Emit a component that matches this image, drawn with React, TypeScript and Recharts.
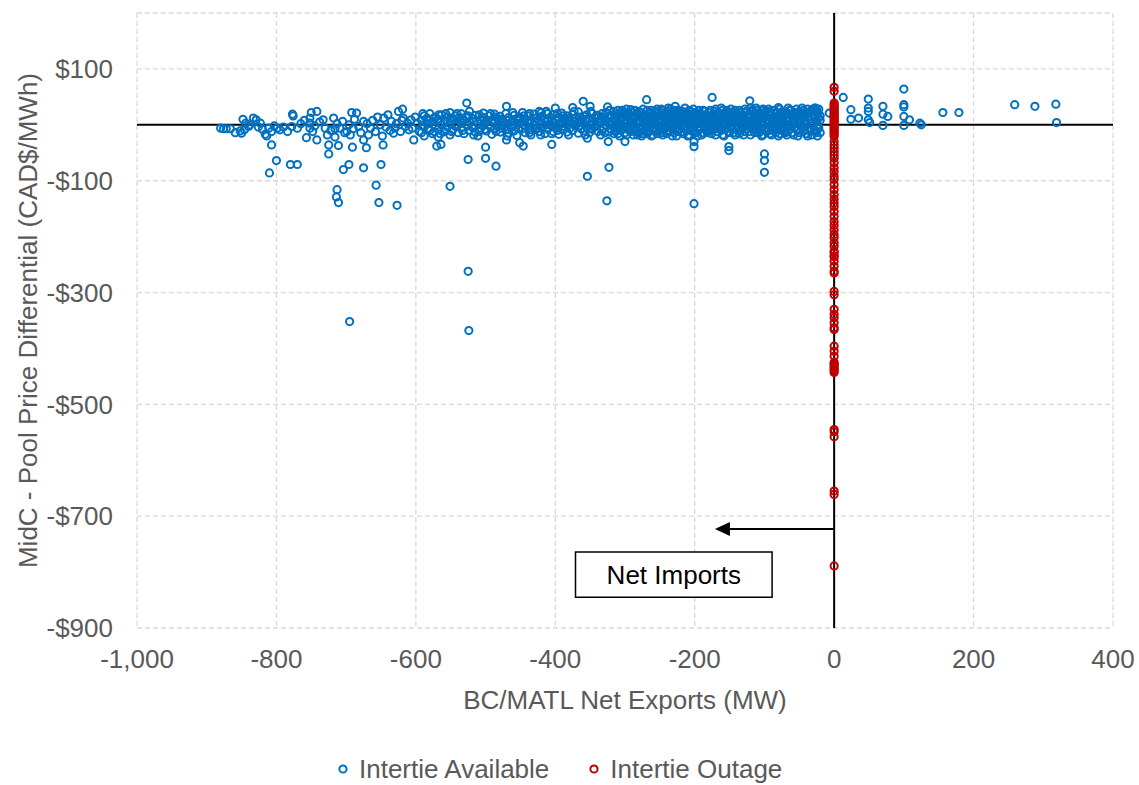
import React from 'react'
import {
  ScatterChart, Scatter, XAxis, YAxis, CartesianGrid, ReferenceLine, ReferenceArea, Legend,
} from 'recharts'

// ----- axes -----
const xTicks = [-1000, -800, -600, -400, -200, 0, 200, 400]
const yTicks = [-900, -700, -500, -300, -100, 100]

// ----- Intertie Available (blue) -----
// west part of the band, read point by point
const availableWest: [number, number][] = [
  [-880, -6], [-876, -7], [-872, -7], [-866, -7], [-859, -14], [-852, -11], [-850, -15], [-848, 10],
  [-846, -9], [-844, 3], [-840, -3], [-838, 0], [-833, 12], [-829, 9], [-826, -4], [-823, 3],
  [-820, -8], [-816, -17], [-814, -20], [-811, -6], [-807, -12], [-803, -2], [-799, -6], [-795, -9],
  [-790, -4], [-784, -12], [-778, -3], [-777, 19], [-776, 16], [-770, -6], [-765, 2], [-760, 8],
  [-757, -23], [-752, 12], [-752, 3], [-752, -6], [-750, 22], [-748, -12], [-745, -2], [-742, 24],
  [-742, -27], [-738, 5], [-733, 9], [-730, -6], [-727, -18], [-725, -36], [-722, -10], [-718, 12],
  [-716, -7], [-716, -22], [-713, 2], [-711, -37], [-709, -6], [-705, 6], [-702, -14], [-699, -12],
  [-696, 0], [-694, -18], [-692, 22], [-690, -7], [-688, 10], [-685, 21], [-682, -3], [-679, -14],
  [-675, 6], [-675, -27], [-670, 2], [-668, -18], [-665, -6], [-662, 8], [-658, -12], [-655, 14],
  [-651, 0], [-648, -20], [-646, 12], [-643, -4], [-640, 18], [-637, -10], [-635, 6], [-632, -15],
  [-630, -6], [-628, 2], [-625, 24], [-622, -12], [-620, 8], [-619, 28], [-618, 12], [-615, -3],
  [-612, 3], [-610, -9], [-607, 9], [-605, -6], [-601, 14], [-598, 3], [-595, -12],
]

// central part of the band: x, then the y values stacked at that x
const availableCentral: [number, number[]][] = [
  [-592, [8, -14]], [-588, [16, -4, -20]], [-584, [2, 12]], [-580, [-10, 20]], [-576, [6, -16]],
  [-572, [-2, 14]], [-568, [10, -8, -22]], [-567, [18]], [-563, [0, 18]], [-559, [-12, 6]],
  [-555, [14, -4]], [-551, [-18, 3, 22]], [-547, [9, -9]], [-543, [-3, 16]], [-539, [12, -14]],
  [-535, [4, -6, 20]], [-531, [-16, 8]], [-527, [0, 14, 39]], [-523, [-10, 24, 5]], [-519, [-4, 11]],
  [-515, [17, -13]], [-511, [2, -20]], [-507, [9, -6]], [-503, [13, -1, 21]], [-499, [-11, 6]],
  [-495, [0, 16]], [-491, [-17, 8]], [-487, [4, -7, 19]], [-483, [11, -3]], [-479, [-13, 15]],
  [-475, [7, -1]], [-471, [-9, 20, 2]], [-470, [33]], [-467, [13, -15]], [-463, [5, -5]],
  [-459, [17, -11, 0]], [-455, [9, -19]], [-451, [3, 14]], [-447, [-7, 22]], [-443, [10, -2, -14]],
  [-439, [16, 4]], [-435, [-9, 8, -18]], [-431, [0, 19]], [-427, [12, -6]], [-423, [-12, 6, 24]],
  [-420, [22]], [-419, [2, 15, -3]], [-415, [-16, 10]], [-411, [7, -8, 20]], [-407, [-1, 13]],
  [-403, [18, -12, 4]], [-400, [30]], [-399, [-5, 9]], [-395, [14, -17, 0]], [-391, [6, 21, -8]],
  [-387, [-3, 11]], [-383, [16, -13, 3]], [-379, [8, -6]], [-375, [-10, 19, 1, 31]], [-371, [12, -2]],
  [-367, [-15, 5, 23]], [-363, [9, -7]], [-360, [42]], [-359, [15, -11, 2]], [-355, [-4, 18, 7]],
  [-351, [11, -14]], [-350, [33]], [-347, [1, 20, -8]], [-343, [13, -3]], [-339, [-12, 6, 17]],
  [-335, [4, -18, 10]], [-331, [14, -6]], [-327, [-1, 22, 8]], [-325, [32]], [-323, [-13, 12]],
  [-320, [3, 17, -7]],
]

// more points filling the central band
const availableCentralFill: [number, number[]][] = [
  [-590, [0, 20]], [-582, [-6, 8]], [-574, [12, -12]], [-565, [4, -16]], [-557, [20, -8]],
  [-549, [-12, 12]], [-541, [0, 20]], [-533, [12, -10]], [-525, [-2, 16]], [-517, [6, -18]],
  [-509, [18, -12]], [-501, [4, -8]], [-493, [-4, 20]], [-485, [14, -12]], [-477, [-6, 10]],
  [-469, [8, -20]], [-461, [-2, 22]], [-453, [12, -6]], [-445, [0, 16]], [-437, [-14, 20]],
  [-429, [6, -8]], [-421, [14, -18]], [-413, [0, 24]], [-405, [8, -16]], [-397, [-10, 20]],
  [-389, [2, 16]], [-381, [-18, 12]], [-373, [6, 24]], [-365, [-2, 14]], [-357, [10, -18]],
  [-349, [-6, 24]], [-341, [2, 16]], [-333, [-10, 20]], [-329, [6, -14]], [-322, [0, 26]],
]

// east part of the band, the densest
const availableEast: [number, number[]][] = [
  [-316, [10, -4, 24, -16]], [-312, [2, 16, -10]], [-308, [20, -2, 8, -20]], [-304, [12, -8, 26]],
  [-300, [4, 18, -14]], [-296, [14, -6, 22]], [-292, [-12, 6, 27]], [-288, [0, 16, -18, 10]],
  [-284, [20, -6, 4]], [-280, [8, -14, 24, 14]], [-276, [-2, 12, -20]], [-272, [18, 4, -10]],
  [-269, [45]], [-268, [26, -4, 10, -16]], [-264, [14, 0, 22]], [-260, [-8, 8, 18, -18]],
  [-256, [24, 2, -12]], [-252, [10, -4, 16]], [-248, [-14, 6, 22, 28]], [-244, [14, -8, 2]],
  [-240, [20, -2, -16, 10]], [-236, [6, 16, -10]], [-235, [28]], [-232, [24, 0, -20, 12]],
  [-228, [-6, 8, 18, 33]], [-224, [14, -12, 2, 26]], [-220, [-2, 20, 8]], [-216, [10, -16, 16, -6]],
  [-212, [22, 4, -10]], [-208, [0, 14, -18, 26]], [-204, [8, -6, 18]], [-200, [12, -12, 2, 22]],
  [-196, [-4, 16, 6, -20]], [-192, [20, 10, -8]], [-188, [0, 26, -14, 14]], [-184, [8, -4, 18]],
  [-180, [-10, 4, 22, 12]], [-176, [16, -16, 0]], [-175, [49]], [-172, [6, 24, -6]],
  [-168, [-12, 12, 18, 2]], [-164, [20, -4, 8]], [-160, [14, -18, 26, 0]], [-156, [-8, 6, 16]],
  [-152, [22, 2, -12]], [-148, [10, -4, 18, 28]], [-144, [-14, 4, 14]], [-140, [20, -8, 8, 0]],
  [-136, [26, -16, 12]], [-132, [2, 16, -6]], [-128, [10, -12, 22, 28]], [-124, [-2, 14, 6]],
  [-121, [43]], [-120, [-18, 18, 0, 30]], [-116, [8, -8, 24]], [-112, [14, -4, 2, 30]],
  [-108, [-14, 20, 10]], [-104, [4, -20, 16, 26]], [-100, [-6, 12, 22]], [-96, [8, -12, 2]],
  [-92, [18, -2, 24, -16]], [-88, [12, 4, -8]], [-84, [-14, 20, 6]], [-80, [0, 14, -20, 31]],
  [-76, [10, -6, 20]], [-72, [-12, 4, 16]], [-68, [22, -2, 8, -18]], [-64, [12, -8, 26]],
  [-60, [4, 18, -14]], [-56, [-4, 10, 22]], [-52, [14, -10, 2, -20]], [-48, [6, 20, -2]],
  [-44, [-12, 12, 26]], [-40, [2, -16, 18]], [-36, [10, -6, 22]], [-32, [-18, 4, 27]],
  [-28, [12, -10, 30]], [-24, [0, 20, -4, -20]], [-20, [16, 8, -14]], [-7, [21]],
]

// more points filling the east band
const availableEastFill: [number, number[]][] = [
  [-314, [-12, 6, 18]], [-310, [0, -16, 26]], [-306, [14, -10]], [-302, [-4, 22, 8]],
  [-298, [10, -18, 28]], [-294, [0, -10, 16]], [-290, [22, -4, 4]], [-286, [-12, 12, 26]],
  [-282, [2, 18, -18]], [-278, [-8, 22, 6]], [-274, [12, -16, 28]], [-270, [0, 16, -6]],
  [-266, [-12, 6, 20]], [-262, [26, 2, -20]], [-258, [14, -6, 8]], [-254, [-16, 20, 28]],
  [-250, [0, 10, -10]], [-246, [18, -18, 26]], [-242, [4, -4, 12]], [-238, [24, -12, 30]],
  [-234, [-2, 10, 18]], [-230, [-14, 4, 26]], [-226, [12, -20, 22]], [-222, [2, -8, 16]],
  [-218, [24, -12, 6]], [-214, [-2, 14, 30]], [-210, [8, -20, 18]], [-206, [-10, 4, 24]],
  [-202, [16, -2, 28]], [-198, [-14, 8, 22]], [-194, [2, -8, 26]], [-190, [18, -18, 6]],
  [-186, [-6, 12, 24]], [-182, [2, -14, 16]], [-178, [8, -4, 26]], [-174, [-10, 18, 2]],
  [-170, [12, -18, 28]], [-166, [-4, 6, 22]], [-162, [14, -10, 30]], [-158, [2, -20, 20]],
  [-154, [10, -6, 26]], [-150, [-14, 16, 4]], [-146, [0, 22, -8]], [-142, [12, -18, 26]],
  [-138, [-4, 6, 18]], [-134, [22, -10, 8]], [-130, [-18, 14, 0]], [-126, [6, 24, -8]],
  [-122, [-12, 12, 20]], [-118, [2, -4, 26]], [-114, [18, -14, 8]], [-110, [-6, 26, 0]],
  [-106, [10, -12, 20]], [-102, [2, -18, 28]], [-98, [16, -6, 24]], [-94, [-10, 8, 28]],
  [-90, [0, -18, 20]], [-86, [14, -4, 26]], [-82, [-8, 8, 22]], [-78, [2, -16, 28]],
  [-74, [14, -6, 24]], [-70, [-14, 0, 20]], [-66, [10, -12, 30]], [-62, [-2, 16, 26]],
  [-58, [8, -18, 14]], [-54, [-8, 20, 28]], [-50, [2, -14, 24]], [-46, [14, -4, 30]],
  [-42, [-8, 8, 20]], [-38, [-20, 14, 28]], [-34, [2, -10, 24]], [-30, [18, -2, 26]],
  [-26, [-14, 8, 22]], [-22, [-6, 12, 28]],
]

// scattered points below the band
const availableOutliers: [number, number][] = [
  [-810, -86], [-807, -36], [-800, -64], [-780, -71], [-770, -71], [-725, -52], [-713, -116],
  [-714, -129], [-711, -139], [-704, -80], [-696, -71], [-691, -40], [-675, -77], [-671, -41],
  [-657, -108], [-653, -139], [-650, -71], [-647, -36], [-627, -144], [-695, -352], [-603, -27],
  [-570, -38], [-564, -35], [-551, -110], [-525, -62], [-500, -40], [-500, -60], [-485, -74],
  [-525, -262], [-524, -368], [-470, -27], [-451, -32], [-446, -38], [-405, -35], [-354, -92],
  [-354, -24], [-324, -30], [-323, -76], [-326, -136], [-300, -30], [-201, -30], [-201, -39],
  [-201, -141], [-151, -39], [-151, -46], [-100, -52], [-100, -64], [-100, -85],
]

// net exports side
const availablePositive: [number, number][] = [
  [-27, 30], [-25, 27], [13, 49], [24, 27], [24, 10], [35, 12], [49, 46], [49, 30], [49, 24],
  [49, 9], [51, 4], [70, 33], [70, 19], [77, 15], [70, -1], [100, 64], [100, 36], [100, 32],
  [100, 15], [108, 9], [100, -1], [123, 3], [125, 0], [156, 22], [179, 22], [259, 36], [288, 33],
  [318, 37], [319, 4],
]

// ----- Intertie Outage (red), all at 0 MW -----
const outageY = [
  67, 60, 39, 36, 33, 30, 27, 25, 22, 19, 17, 14, 12, 9, 6, 4, 1, -2, -5, -8, -11, -14, -17, -21,
  -30, -36, -42, -48, -54, -60, -68, -77, -84, -92, -98, -107, -116, -125, -133, -140, -146, -155,
  -164, -173, -180, -188, -196, -202, -211, -217, -226, -229, -235, -236, -244, -253, -262, -265,
  -298, -304, -330, -339, -345, -354, -363, -366, -396, -405, -414, -425, -428, -431, -434, -437,
  -440, -443, -545, -549, -558, -655, -661, -789,
]

const stacked = (groups: [number, number[]][]) =>
  groups.flatMap(([x, ys]) => ys.map((y) => [x, y] as [number, number]))

const available = [
  ...availableWest,
  ...stacked(availableCentral),
  ...stacked(availableCentralFill),
  ...stacked(availableEast),
  ...stacked(availableEastFill),
  ...availableOutliers,
  ...availablePositive,
].map(([x, y]) => ({ x, y }))

const outage = outageY.map((y) => ({ x: 0, y }))

const BLUE = '#0070C0'
const RED = '#C00000'
const GREY = '#595959'

const ring = (color: string) => (props: any) => (
  <circle cx={props.cx} cy={props.cy} r={3.6} fill="none" stroke={color} strokeWidth={2} />
)

const fmtX = (v: number) => v.toLocaleString('en-US')
const fmtY = (v: number) => (v < 0 ? `-$${Math.abs(v)}` : `$${v}`)

// arrow pointing to the net imports side
const Arrow = (p: any) => {
  const { x1, y1, x2, y2 } = p
  const dx = x2 - x1
  const dy = y2 - y1
  const len = Math.hypot(dx, dy) || 1
  const ux = dx / len
  const uy = dy / len
  const bx = x2 - ux * 15
  const by = y2 - uy * 15
  const nx = -uy * 7
  const ny = ux * 7
  return (
    <g>
      <line x1={x1} y1={y1} x2={bx} y2={by} stroke="#000" strokeWidth={2} />
      <polygon points={`${x2},${y2} ${bx + nx},${by + ny} ${bx - nx},${by - ny}`} fill="#000" />
    </g>
  )
}

const YTitle = (p: any) => {
  const vb = p.viewBox
  const x = vb.x + 28
  const y = vb.y + vb.height / 2
  return (
    <text x={x} y={y} transform={`rotate(-90 ${x} ${y})`} textAnchor="middle" dy="0.355em" fontSize={26} fill={GREY}>
      MidC - Pool Price Differential (CAD$/MWh)
    </text>
  )
}

const XTitle = (p: any) => {
  const vb = p.viewBox
  return (
    <text x={vb.x + vb.width / 2} y={vb.y + 81} textAnchor="middle" fontSize={26} fill={GREY}>
      BC/MATL Net Exports (MW)
    </text>
  )
}

const LegendContent = () => (
  <div style={{ display: 'flex', alignItems: 'center', paddingLeft: 337, fontSize: 26, color: GREY, lineHeight: '30px' }}>
    <svg width={12} height={12} style={{ marginRight: 10 }}>
      <circle cx={6} cy={6} r={3.6} fill="none" stroke={BLUE} strokeWidth={2} />
    </svg>
    <span>Intertie Available</span>
    <svg width={12} height={12} style={{ marginLeft: 39, marginRight: 10 }}>
      <circle cx={6} cy={6} r={3.6} fill="none" stroke={RED} strokeWidth={2} />
    </svg>
    <span>Intertie Outage</span>
  </div>
)

export default function App() {
  return (
    <div style={{ position: 'absolute', left: 0, top: 0, background: '#fff', fontFamily: '"Liberation Sans", Arial, sans-serif' }}>
      <ScatterChart width={1139} height={785} margin={{ top: 13, right: 26, bottom: 57, left: 0 }}>
        <CartesianGrid stroke="#D9D9D9" strokeDasharray="5 3" strokeWidth={1.3} />
        <XAxis
          type="number"
          dataKey="x"
          domain={[-1000, 400]}
          ticks={xTicks}
          tickFormatter={fmtX}
          axisLine={false}
          tickLine={false}
          tickSize={0}
          tickMargin={22}
          height={100}
          tick={{ fontSize: 26, fill: GREY }}
          label={XTitle}
          allowDataOverflow
        />
        <YAxis
          type="number"
          dataKey="y"
          domain={[-900, 200]}
          ticks={yTicks}
          tickFormatter={fmtY}
          axisLine={false}
          tickLine={false}
          tickSize={0}
          tickMargin={24}
          width={137}
          tick={{ fontSize: 26, fill: GREY }}
          label={YTitle}
          allowDataOverflow
        />
        <ReferenceLine y={0} stroke="#000" strokeWidth={2} />
        <ReferenceLine x={0} stroke="#000" strokeWidth={2} />
        <ReferenceLine segment={[{ x: 0, y: -723 }, { x: -171, y: -723 }]} shape={Arrow} />
        <ReferenceArea
          x1={-371}
          x2={-89}
          y1={-845}
          y2={-764}
          fill="#fff"
          fillOpacity={1}
          stroke="#000"
          strokeWidth={1.5}
          label={{ value: 'Net Imports', position: 'center', fontSize: 26, fill: '#000' }}
        />
        <Scatter name="Intertie Available" data={available} shape={ring(BLUE)} isAnimationActive={false} />
        <Scatter name="Intertie Outage" data={outage} shape={ring(RED)} isAnimationActive={false} />
        <Legend verticalAlign="middle" align="center" layout="horizontal" wrapperStyle={{ top: 754, left: 0, width: 1139 }} content={LegendContent} />
      </ScatterChart>
    </div>
  )
}
